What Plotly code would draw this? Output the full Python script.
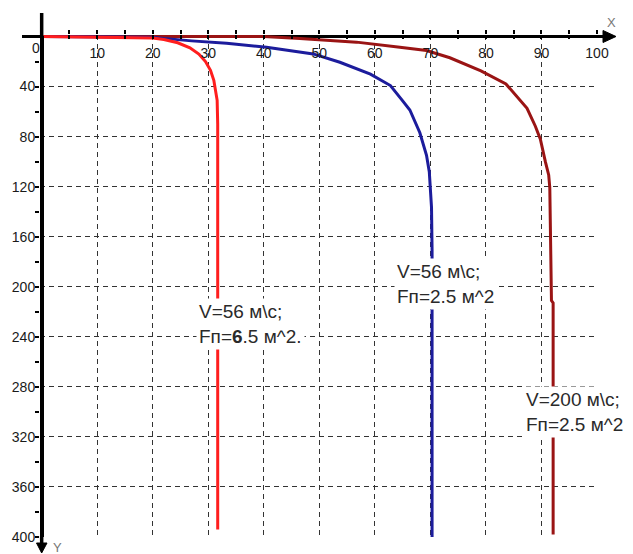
import plotly.graph_objects as go

# ---------------- data ----------------
red_x = [0, 15, 20, 22, 24.5, 26.7, 28.3, 29.5, 30.4, 31.0, 31.3, 31.6, 31.7, 31.7]
red_y = [0, 0.5, 1.2, 2.4, 5, 9, 14, 20, 27, 35, 42, 51, 70, 394]

blue_x = [0, 20, 22, 27, 33.3, 40.5, 48.9, 53.7, 59.2, 62.8, 64.9, 66.3, 68.1, 69.3, 69.8, 70.0, 70.2, 70.3, 70.3]
blue_y = [0, 0.5, 1.5, 3.5, 5.4, 8.6, 13.9, 20.6, 30.1, 39.2, 50.9, 58.7, 76.9, 95, 108, 121, 136.6, 170, 400]

dred_x = [0, 40, 46.5, 56.7, 64.5, 69.3, 73.5, 79.1, 83.6, 87.4, 88.9, 89.8, 90.7, 91.3, 91.5, 91.6, 91.8, 92.1, 92.1]
dred_y = [0, 0, 1.6, 4.5, 8.5, 11.2, 17.0, 27.5, 37.9, 57.4, 71.7, 82, 100, 110.6, 121, 150, 211, 213, 398]

x_tickvals = [10, 20, 30, 40, 50, 60, 70, 80, 90, 100]
x_ticktext = ["10", "20", "30", "40", "50", "60", "70", "80", "90", "100"]
x_minorvals = [5, 15, 25, 35, 45, 55, 65, 75, 85, 95]
y_tickvals = [40, 80, 120, 160, 200, 240, 280, 320, 360, 400]
y_ticktext = ["40", "80", "120", "160", "200", "240", "280", "320", "360", "400"]
y_minorvals = [20, 60, 100, 140, 180, 220, 260, 300, 340, 380]

labels = ["V=56 м\\с;<br>Fп=<b>6</b>.5 м^2.",
          "V=56 м\\с;<br>Fп=2.5 м^2",
          "V=200 м\\с;<br>Fп=2.5 м^2"]
label_x = [27.8, 63.4, 86.7]
label_y = [229.8, 197.8, 300.0]

# ---------------- layout geometry ----------------
# the page body has an 8px margin, so the figure is drawn 8px in from the corner
OFF = 8
W, H = 633 - OFF, 554 - OFF
ML, MR, MT, MB = 32, 36, 27, 17
PW, PH = W - ML - MR, H - MT - MB
XR = [-0.3, 100]
YR = [400, -1.2]

def px(p):  # window pixel -> paper x
    return (p - OFF - ML) / PW

def py(p):  # window pixel -> paper y
    return 1 - (p - OFF - MT) / PH

TICKFONT = dict(family="Liberation Sans, Arial, sans-serif", size=14, color="#1a1a1a")
TXTFONT = dict(family="Liberation Sans, Arial, sans-serif", size=19, color="#2a2a2a")
AXNAMEFONT = dict(family="Liberation Sans, Arial, sans-serif", size=13, color="#777")

fig = go.Figure()
fig.add_trace(go.Scatter(x=dred_x, y=dred_y, mode="lines",
                         line=dict(color="#9a1414", width=3), showlegend=False))
fig.add_trace(go.Scatter(x=blue_x, y=blue_y, mode="lines",
                         line=dict(color="#1c1c9c", width=3), showlegend=False))
fig.add_trace(go.Scatter(x=red_x, y=red_y, mode="lines",
                         line=dict(color="#ff1e1e", width=3), showlegend=False))
# helper (empty) trace so the overlay axes carrying the inner tick halves are drawn
fig.add_trace(go.Scatter(x=[], y=[], xaxis="x2", yaxis="y2", showlegend=False,
                         hoverinfo="skip"))

annotations = []
for t, xv, yv in zip(labels, label_x, label_y):
    annotations.append(dict(x=xv, y=yv, xref="x", yref="y", text=t, showarrow=False,
                            xanchor="left", yanchor="middle", align="left",
                            bgcolor="white", borderpad=2, font=TXTFONT))
annotations.append(dict(x=0, y=0, xref="x", yref="y", text="0", showarrow=False,
                        xanchor="right", yanchor="top", xshift=0, yshift=-1,
                        font=TICKFONT))
annotations.append(dict(x=px(611), y=py(22), xref="paper", yref="paper", text="X",
                        xanchor="center", yanchor="middle",
                        showarrow=False, font=AXNAMEFONT))
annotations.append(dict(x=px(57), y=py(547), xref="paper", yref="paper", text="Y",
                        xanchor="center", yanchor="middle",
                        showarrow=False, font=AXNAMEFONT))

x0p = 0.3 / (XR[1] - XR[0])
y0p = 1 - 1.2 / (YR[0] - YR[1])
shapes = [
    dict(type="line", xref="paper", yref="paper", x0=px(22), x1=x0p, y0=y0p, y1=y0p,
         line=dict(color="black", width=3)),
    dict(type="line", xref="paper", yref="paper", x0=0.998, x1=px(606), y0=y0p, y1=y0p,
         line=dict(color="black", width=3)),
    dict(type="path", xref="paper", yref="paper",
         path=f"M {px(603)} {py(30.5)} L {px(616)} {y0p} L {px(603)} {py(42.5)} Z",
         fillcolor="black", line=dict(color="black", width=1)),
    dict(type="line", xref="paper", yref="paper", x0=x0p, x1=x0p, y0=py(13), y1=y0p,
         line=dict(color="black", width=3.5)),
    dict(type="line", xref="paper", yref="paper", x0=x0p, x1=x0p, y0=0.002, y1=py(545),
         line=dict(color="black", width=3.5)),
    dict(type="path", xref="paper", yref="paper",
         path=f"M {px(36.5)} {py(543)} L {x0p} {py(553)} L {px(47)} {py(543)} Z",
         fillcolor="black", line=dict(color="black", width=1)),
]

GRID = dict(showgrid=True, gridcolor="#333", griddash="5px,4px", gridwidth=1)

fig.update_layout(
    width=W, height=H, autosize=False,
    margin=dict(l=ML, r=MR, t=MT, b=MB, pad=0, autoexpand=False),
    paper_bgcolor="white", plot_bgcolor="white",
    showlegend=False,
    xaxis=dict(range=XR, side="top", anchor="y", showline=False, automargin=False,
               zeroline=True, zerolinecolor="black", zerolinewidth=3.5,
               tickmode="array", tickvals=x_tickvals, ticktext=x_ticktext,
               ticks="outside", ticklen=4, tickwidth=2, tickcolor="black",
               minor=dict(tickmode="array", tickvals=x_minorvals, ticks="outside",
                          ticklen=4, tickwidth=2, tickcolor="black", showgrid=False),
               ticklabelposition="inside", ticklabeloverflow="allow",
               ticklabelstandoff=10,
               tickfont=TICKFONT, **GRID),
    yaxis=dict(range=YR, anchor="x", showline=False, automargin=False,
               zeroline=True, zerolinecolor="black", zerolinewidth=3,
               tickmode="array", tickvals=y_tickvals, ticktext=y_ticktext,
               ticks="outside", ticklen=4, tickwidth=2, tickcolor="black",
               minor=dict(tickmode="array", tickvals=y_minorvals, ticks="outside",
                          ticklen=4, tickwidth=2, tickcolor="black", showgrid=False),
               ticklabelstandoff=-3,
               tickfont=TICKFONT, **GRID),
    xaxis2=dict(range=XR, side="top", overlaying="x", anchor="y2", showline=False,
                automargin=False,
                zeroline=False, showgrid=False, showticklabels=False,
                tickmode="linear", tick0=0, dtick=5,
                ticks="inside", ticklen=4, tickwidth=2, tickcolor="black"),
    yaxis2=dict(range=YR, side="left", overlaying="y", anchor="x2", showline=False,
                automargin=False,
                zeroline=False, showgrid=False, showticklabels=False,
                tickmode="linear", tick0=0, dtick=20,
                ticks="inside", ticklen=4, tickwidth=2, tickcolor="black"),
    annotations=annotations,
    shapes=shapes,
)

fig.write_html("out.html")
